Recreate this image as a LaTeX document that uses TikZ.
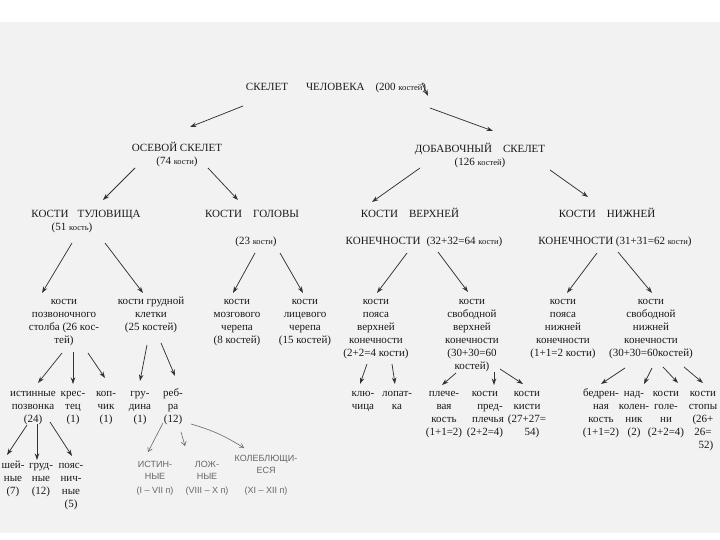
\documentclass[tikz,border=0pt]{standalone}
\usepackage{fontspec}
\setmainfont{Liberation Serif}
\newfontfamily\handfont{Liberation Sans}
\usetikzlibrary{arrows.meta}
\begin{document}
\begin{tikzpicture}[x=1pt,y=-1pt,
  txt/.style={align=center,inner sep=0pt,anchor=north,yshift=9.1pt,text=black!90,
    font=\fontsize{11}{13}\selectfont},
  hw/.style={align=center,inner sep=0pt,anchor=north,yshift=8.4pt,text=black!60,
    font={\handfont\fontsize{9}{12}\selectfont}},
  arr/.style={draw=black!80,line width=0.75pt,-{Stealth[length=6.5pt,width=4.5pt]}},
  harr/.style={draw=black!60,line width=0.6pt,-{Straight Barb[length=4pt,width=5pt]}},
]
\newcommand{\sm}[1]{{\fontsize{8.5}{9}\selectfont #1}}
\useasboundingbox (0,0) rectangle (720,540);
\fill[white] (0,0) rectangle (720,540);
\fill[black!5] (0,22) rectangle (720,533);

% level 0
\node[txt] (root) at (336,90) {\strut СКЕЛЕТ\hspace{18pt}ЧЕЛОВЕКА\hspace{11pt}(200 \sm{костей})};
% level 1
\node[txt] (axial) at (177,151) {\strut ОСЕВОЙ СКЕЛЕТ\\(74 \sm{кости})};
\node[txt] (append) at (480,152) {\strut ДОБАВОЧНЫЙ\hspace{11pt}СКЕЛЕТ\\(126 \sm{костей})};
% level 2
\node[txt] (trunk) at (86,217) {\strut КОСТИ\hspace{9pt}ТУЛОВИЩА\\\hspace*{-28pt}(51 \sm{кость})};
\node[txt] (head) at (252,217) {\strut КОСТИ\hspace{11pt}ГОЛОВЫ\\[14pt]\hspace*{8pt}(23 \sm{кости})};
\node[txt] (upper) at (424,217) {\strut\hspace*{-28pt}КОСТИ\hspace{11pt}ВЕРХНЕЙ\\[14pt]КОНЕЧНОСТИ\hspace{6pt}(32+32=64 \sm{кости})};
\node[txt] (lower) at (615,217) {\strut\hspace*{-16pt}КОСТИ\hspace{11pt}НИЖНЕЙ\\[14pt]КОНЕЧНОСТИ (31+31=62 \sm{кости})};
% level 3
\node[txt] (spine) at (64,304) {\strut кости\\позвоночного\\столба (26 кос-\\тей)};
\node[txt] (chest) at (151,304) {\strut кости грудной\\клетки\\(25 костей)};
\node[txt] (brain) at (237,304) {\strut кости\\мозгового\\черепа\\(8 костей)};
\node[txt] (face) at (305,304) {\strut кости\\лицевого\\черепа\\(15 костей)};
\node[txt] (ugird) at (376,304) {\strut кости\\пояса\\верхней\\конечности\\(2+2=4 кости)};
\node[txt] (ufree) at (472,304) {\strut кости\\свободной\\верхней\\конечности\\(30+30=60\\костей)};
\node[txt] (lgird) at (563,304) {\strut кости\\пояса\\нижней\\конечности\\(1+1=2 кости)};
\node[txt] (lfree) at (651,304) {\strut кости\\свободной\\нижней\\конечности\\(30+30=60костей)};
% level 4
\node[txt] (true) at (33,396) {\strut истинные\\позвонка\\(24)};
\node[txt] (sacrum) at (73,396) {\strut крес-\\тец\\(1)};
\node[txt] (coccyx) at (106,396) {\strut коп-\\чик\\(1)};
\node[txt] (sternum) at (140,396) {\strut гру-\\дина\\(1)};
\node[txt] (ribs) at (173,396) {\strut реб-\\ра\\(12)};
\node[txt] (clav) at (363,396) {\strut клю-\\чица};
\node[txt] (scap) at (397,396) {\strut лопат-\\ка};
\node[txt] (hum) at (444,396) {\strut плече-\\вая\\кость\\(1+1=2)};
\node[txt] (forearm) at (485,396) {\strut кости\\\hspace*{10pt}пред-\\\hspace*{6pt}плечья\\(2+2=4)};
\node[txt] (hand) at (527,396) {\strut кости\\кисти\\(27+27=\\\hspace*{10pt}54)};
\node[txt] (femur) at (601,396) {\strut бедрен-\\ная\\кость\\(1+1=2)};
\node[txt] (patella) at (634,396) {\strut над-\\колен-\\ник\\(2)};
\node[txt] (shin) at (666,396) {\strut кости\\голе-\\ни\\(2+2=4)};
\node[txt] (foot) at (703,396) {\strut кости\\стопы\\(26+\\26=\\\hspace*{6pt}52)};
% level 5
\node[txt] (cerv) at (13,468) {\strut шей-\\ные\\(7)};
\node[txt] (thor) at (41,468) {\strut груд-\\ные\\(12)};
\node[txt] (lumb) at (71,468) {\strut пояс-\\нич-\\ные\\(5)};
% handwritten
\node[hw] (hw1) at (155,467) {\strut ИСТИН-\\НЫЕ\\[2pt](I – VII п)};
\node[hw] (hw2) at (207,467) {\strut ЛОЖ-\\НЫЕ\\[2pt](VIII – X п)};
\node[hw] (hw3) at (266,461) {\strut КОЛЕБЛЮЩИ-\\ЕСЯ\\[8pt](XI – XII п)};

% connectors
\coordinate (r1) at (243,106); \coordinate (r2) at (190,127);
\coordinate (r3) at (430,108); \coordinate (r4) at (493,131);
\coordinate (r5) at (422,83);  \coordinate (r6) at (428,96);
\draw[arr] (r1) -- (r2);
\draw[arr] (r3) -- (r4);
\draw[arr] (r5) -- (r6);

\coordinate (a1) at (135,168); \coordinate (a2) at (103,200);
\coordinate (a3) at (208,168); \coordinate (a4) at (238,200);
\coordinate (a5) at (420,168); \coordinate (a6) at (372,202);
\coordinate (a7) at (550,170); \coordinate (a8) at (588,197);
\draw[arr] (a1) -- (a2);
\draw[arr] (a3) -- (a4);
\draw[arr] (a5) -- (a6);
\draw[arr] (a7) -- (a8);

\coordinate (b1) at (72,243);  \coordinate (b2) at (42,293);
\coordinate (b3) at (105,243); \coordinate (b4) at (143,293);
\coordinate (b5) at (255,253); \coordinate (b6) at (233,293);
\coordinate (b7) at (280,253); \coordinate (b8) at (303,293);
\coordinate (b9) at (407,253); \coordinate (b10) at (377,293);
\coordinate (b11) at (438,252); \coordinate (b12) at (468,292);
\coordinate (b13) at (597,253); \coordinate (b14) at (567,293);
\coordinate (b15) at (618,252); \coordinate (b16) at (652,293);
\foreach \s/\e in {b1/b2,b3/b4,b5/b6,b7/b8,b9/b10,b11/b12,b13/b14,b15/b16}
  \draw[arr] (\s) -- (\e);

\coordinate (c1) at (62,353);  \coordinate (c2) at (38,383);
\coordinate (c3) at (73,352);  \coordinate (c4) at (73,384);
\coordinate (c5) at (88,353);  \coordinate (c6) at (105,378);
\coordinate (c7) at (147,345); \coordinate (c8) at (140,381);
\coordinate (c9) at (161,343); \coordinate (c10) at (175,376);
\coordinate (c11) at (367,364); \coordinate (c12) at (360,384);
\coordinate (c13) at (392,364); \coordinate (c14) at (395,384);
\coordinate (c15) at (456,373); \coordinate (c16) at (442,385);
\coordinate (c17) at (494,372); \coordinate (c18) at (494,385);
\coordinate (c19) at (500,369); \coordinate (c20) at (523,384);
\coordinate (c21) at (625,368); \coordinate (c22) at (601,384);
\coordinate (c23) at (652,368); \coordinate (c24) at (644,384);
\coordinate (c25) at (663,367); \coordinate (c26) at (678,383);
\coordinate (c27) at (684,367); \coordinate (c28) at (703,383);
\foreach \s/\e in {c1/c2,c3/c4,c5/c6,c7/c8,c9/c10,c11/c12,c13/c14,c15/c16,c17/c18,c19/c20,c21/c22,c23/c24,c25/c26,c27/c28}
  \draw[arr] (\s) -- (\e);

\coordinate (d1) at (27,425); \coordinate (d2) at (7,455);
\coordinate (d3) at (37,424); \coordinate (d4) at (37,460);
\coordinate (d5) at (50,422); \coordinate (d6) at (72,456);
\foreach \s/\e in {d1/d2,d3/d4,d5/d6}
  \draw[arr] (\s) -- (\e);

\coordinate (h1) at (163,423); \coordinate (h2) at (148,452);
\coordinate (h3) at (181,432); \coordinate (h4) at (185,446);
\coordinate (h5) at (191,424); \coordinate (h6) at (244,448);
\draw[harr] (h1) -- (h2);
\draw[harr] (h3) -- (h4);
\draw[harr] (h5) to[bend left=8] (h6);
\end{tikzpicture}
\end{document}
